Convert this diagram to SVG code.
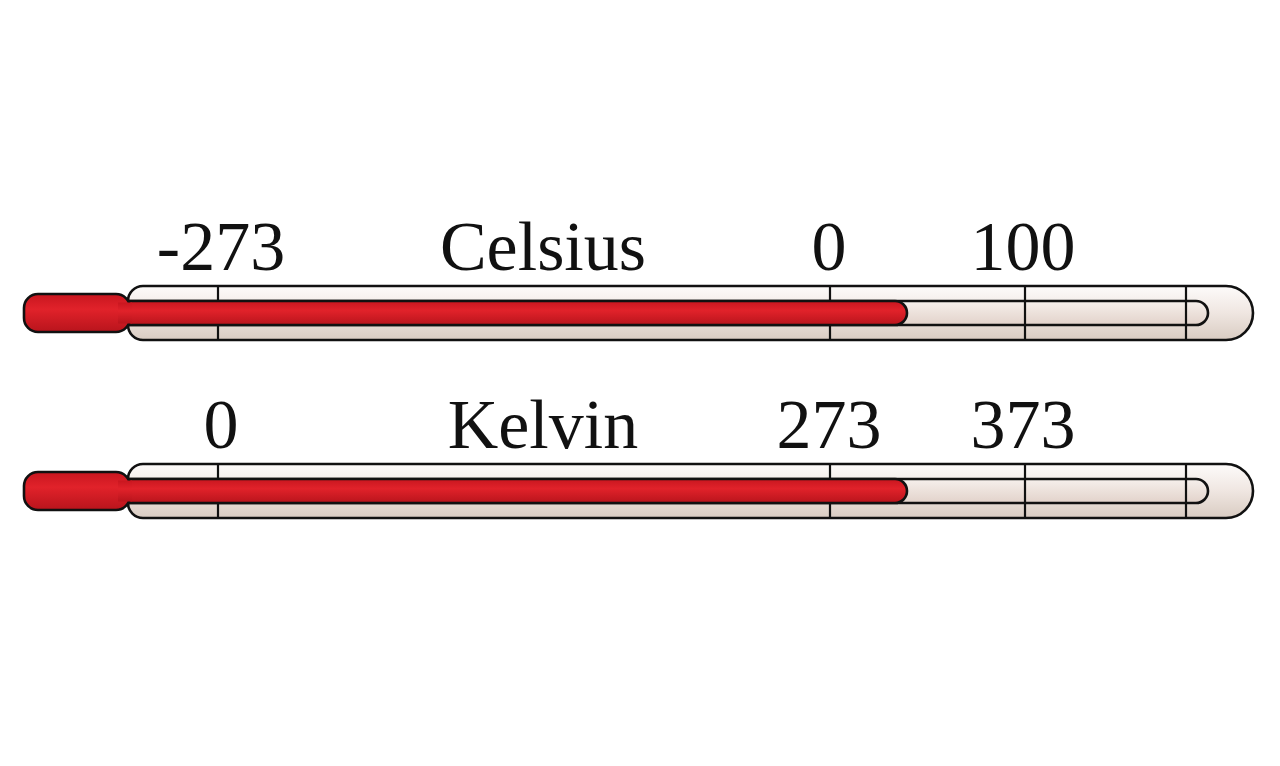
<svg xmlns="http://www.w3.org/2000/svg" width="1280" height="766" viewBox="0 0 1280 766">
<defs>
<linearGradient id="tube" x1="0" y1="0" x2="0" y2="1">
<stop offset="0" stop-color="#fdfbfa"/><stop offset="0.5" stop-color="#efe6e1"/><stop offset="1" stop-color="#d9ccc2"/>
</linearGradient>
<linearGradient id="cap" x1="0" y1="0" x2="0" y2="1">
<stop offset="0" stop-color="#f6f0ec"/><stop offset="1" stop-color="#e2d2ca"/>
</linearGradient>
<linearGradient id="red" x1="0" y1="0" x2="0" y2="1">
<stop offset="0" stop-color="#c8161f"/><stop offset="0.4" stop-color="#e1222a"/><stop offset="1" stop-color="#b8141c"/>
</linearGradient>
<g id="thermo">
<path d="M143,0 H1226 A27,27 0 0 1 1226,54 H143 A15,15 0 0 1 128,39 V15 A15,15 0 0 1 143,0 Z" fill="url(#tube)" stroke="#111" stroke-width="2.6"/>
<path d="M120,15 H1196 A12,12 0 0 1 1196,39 H120 Z" fill="url(#cap)" stroke="#111" stroke-width="2.6"/>
<g stroke="#111" stroke-width="2.2">
<line x1="218" y1="0" x2="218" y2="54"/>
<line x1="830" y1="0" x2="830" y2="54"/>
<line x1="1025" y1="0" x2="1025" y2="54"/>
<line x1="1186" y1="0" x2="1186" y2="54"/>
</g>
<path d="M120,15 H895 A12,12 0 0 1 895,39 H120 Z" fill="url(#red)" stroke="#111" stroke-width="2.6"/>
<rect x="24" y="8" width="106" height="38" rx="14" fill="url(#red)" stroke="#111" stroke-width="2.6"/>
<rect x="118" y="16.5" width="14" height="21" fill="url(#red)"/>
</g>
<style>
text{font-family:"Liberation Serif","Times New Roman",serif;font-size:70px;fill:#111;text-anchor:middle}
</style>
</defs>
<g id="celsius">
<use href="#thermo" x="0" y="286"/>
<text x="221" y="270">-273</text>
<text x="543" y="270">Celsius</text>
<text x="829" y="270">0</text>
<text x="1023" y="270">100</text>
</g>
<g id="kelvin">
<use href="#thermo" x="0" y="464"/>
<text x="221" y="448">0</text>
<text x="543" y="448">Kelvin</text>
<text x="829" y="448">273</text>
<text x="1023" y="448">373</text>
</g>
</svg>
